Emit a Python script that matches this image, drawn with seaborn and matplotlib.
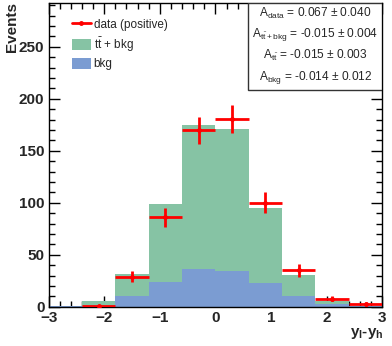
import numpy as np
import pandas as pd
import matplotlib
matplotlib.use("Agg")
import matplotlib.pyplot as plt
from matplotlib.patches import Rectangle, Patch
from matplotlib.lines import Line2D
from matplotlib.ticker import MultipleLocator
import seaborn as sns

# ---- data ----
bin_edges = [-3.0, -2.4, -1.8, -1.2, -0.6, 0.0, 0.6, 1.2, 1.8, 2.4, 3.0]
bin_centers = [-2.7, -2.1, -1.5, -0.9, -0.3, 0.3, 0.9, 1.5, 2.1, 2.7]
ttbar_bkg = [1.0, 5.6, 31.8, 98.5, 175.0, 171.0, 94.8, 30.8, 5.4, 1.3]
bkg = [0.7, 1.0, 10.3, 23.8, 36.2, 34.4, 23.4, 10.3, 3.2, 0.7]
data_pos = [0, 1, 29, 86, 170, 181, 100, 35, 8, 3]
data_err = [0, 1.0, 5.4, 9.3, 13.0, 13.4, 10.0, 5.9, 2.8, 1.7]

asym_labels = [r"$\mathrm{A_{data}}$", r"$\mathrm{A_{t\bar{t}+bkg}}$",
               r"$\mathrm{A_{t\bar{t}}}$", r"$\mathrm{A_{bkg}}$"]
asym_values = ["0.067", "-0.015", "-0.015", "-0.014"]
asym_errors = ["0.040", "0.004", "0.003", "0.012"]

green = "#86c3a4"
blue = "#7b9cd2"

sns.set_style("ticks")
plt.rcParams["font.family"] = ["Liberation Sans", "DejaVu Sans"]
plt.rcParams["mathtext.fontset"] = "custom"
plt.rcParams["mathtext.rm"] = "Liberation Sans"
plt.rcParams["mathtext.bf"] = "Liberation Sans:bold"

fig = plt.figure(figsize=(3.92, 3.46), dpi=100)
ax = fig.add_axes([0.124, 0.113, 0.851, 0.878])

df = pd.DataFrame({"x": bin_centers, "tt": ttbar_bkg, "bkg": bkg})
sns.histplot(data=df, x="x", weights="tt", bins=bin_edges, element="step",
             fill=True, color=green, alpha=1.0, linewidth=0, ax=ax)
sns.histplot(data=df, x="x", weights="bkg", bins=bin_edges, element="step",
             fill=True, color=blue, alpha=1.0, linewidth=0, ax=ax)

# data points (empty bins not drawn, like ROOT)
dx = np.array(data_pos) > 0
cx = np.array(bin_centers)[dx]
ax.errorbar(cx, np.array(data_pos)[dx], xerr=0.3, yerr=np.array(data_err)[dx],
            fmt="o", color="red", ms=2.5, elinewidth=2, capsize=0, zorder=5)

ax.set_xlim(-3, 3)
ax.set_ylim(0, 292)
ax.set_xlabel("")
ax.set_ylabel("")
ax.xaxis.set_major_locator(MultipleLocator(1))
ax.xaxis.set_minor_locator(MultipleLocator(0.2))
ax.yaxis.set_major_locator(MultipleLocator(50))
ax.yaxis.set_minor_locator(MultipleLocator(10))
ax.tick_params(which="both", direction="in", top=True, right=True,
               width=1, color="black")
ax.tick_params(which="major", length=8, labelsize=11, pad=3)
ax.tick_params(which="minor", length=4)
for lab in ax.get_xticklabels() + ax.get_yticklabels():
    lab.set_fontweight("bold")
for sp in ax.spines.values():
    sp.set_visible(True)
    sp.set_linewidth(1)
    sp.set_color("black")

fig.text(0.012, 0.993, "Events", rotation=90, ha="left", va="top",
         fontsize=11, fontweight="bold")
fig.text(0.978, 0.015, r"$\mathbf{y_{l}}$-$\mathbf{y_{h}}$", ha="right",
         va="bottom", fontsize=11, fontweight="bold")

# legend
handles = [Line2D([0], [0], color="red", lw=2, marker="o", ms=2.5),
           Patch(facecolor=green, edgecolor="none"),
           Patch(facecolor=blue, edgecolor="none")]
labels = ["data (positive)", r"t$\bar{\mathrm{t}}$ + bkg", "bkg"]
ax.legend(handles, labels, loc="upper left", bbox_to_anchor=(0.055, 0.965),
          frameon=False, fontsize=8.5, handlelength=1.6, handleheight=1.1,
          handletextpad=0.25, labelspacing=0.35, borderaxespad=0)

# asymmetry box
box = Rectangle((0.598, 0.714), 0.402, 0.286, transform=ax.transAxes,
                facecolor="white", edgecolor="#333333", lw=1, zorder=6)
ax.add_patch(box)
ys = [0.965, 0.898, 0.828, 0.755]
for lbl, v, e, yy in zip(asym_labels, asym_values, asym_errors, ys):
    ax.text(0.8, yy, f"{lbl} = {v} $\\pm$ {e}", transform=ax.transAxes,
            ha="center", va="center", fontsize=8.6, zorder=7)

fig.savefig("out.png", dpi=100)
